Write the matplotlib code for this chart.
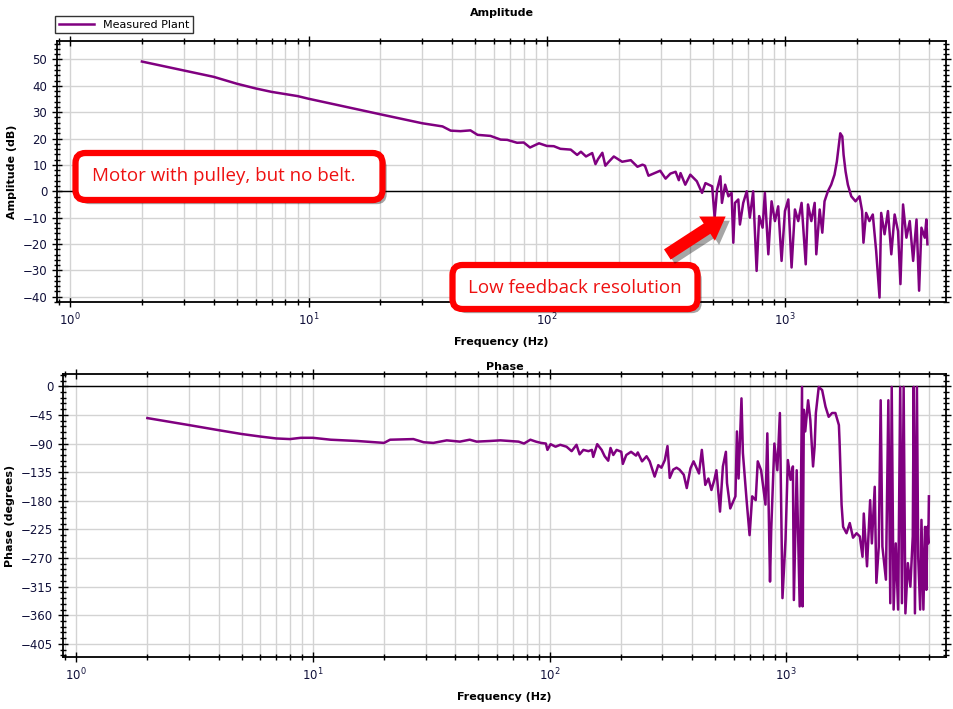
import numpy as np
import matplotlib
matplotlib.use("Agg")
import matplotlib.pyplot as plt
from matplotlib.ticker import MultipleLocator, LogLocator, NullFormatter
from matplotlib.patches import FancyBboxPatch, FancyArrowPatch
import matplotlib.patheffects as pe

# amplitude (Hz, dB)
amp_f = [2, 3, 4, 5, 6, 7, 9, 10, 20, 30, 36.5, 39.5, 43.4, 47.8, 51.2, 58, 64, 68.2, 75, 80,
         85, 92.7, 100, 107, 114, 126, 134, 139, 146, 155, 160, 164, 171, 176, 182, 191, 207, 225,
         240, 252, 258, 267, 280, 299, 315, 330, 347, 358, 364, 381, 400, 426, 448, 463, 494, 506,
         518, 535, 543, 560, 578, 596, 606, 616, 636, 646, 667, 690, 711, 734, 759, 778, 804, 822,
         850, 877, 906, 935, 966, 998, 1031, 1064, 1099, 1135, 1172, 1220, 1247, 1288, 1330, 1351,
         1396, 1432, 1463, 1511, 1560, 1611, 1648, 1680, 1703, 1737, 1759, 1793, 1833, 1894, 1974,
         2051, 2103, 2131, 2186, 2257, 2332, 2409, 2489, 2529, 2613, 2700, 2789, 2880, 2976, 3046,
         3124, 3227, 3333, 3444, 3558, 3648, 3731, 3854, 3913, 3953]
amp_db = [49.2, 45.8, 43.4, 40.8, 39.0, 37.7, 36.1, 35.1, 29.2, 25.8, 24.6, 23.0, 22.8, 23.1, 21.4,
          21.0, 19.6, 19.5, 18.4, 18.5, 16.6, 18.2, 17.2, 17.1, 16.1, 15.8, 13.8, 15.0, 13.2, 14.5,
          10.3, 12.2, 14.6, 9.7, 11.2, 13.2, 11.2, 11.8, 9.3, 10.1, 9.7, 5.9, 6.7, 7.8, 4.8, 6.7,
          7.4, 4.2, 6.9, 2.5, 6.3, 3.8, -0.6, 3.1, 1.9, -10, 0.6, 5.7, -4.4, 2.5, -1.9, -0.6, -19.5,
          -4.4, -3.1, -12.6, -4.4, 0, -10, 0, -30.2, -9.4, -13.8, -0.6, -23.9, -3.8, -11.3, -5.7,
          -26.4, -7.5, -3.1, -28.9, -6.9, -11.3, -4.4, -27.7, -5, -11.3, -4.4, -23.9, -6.9, -15.7,
          -3.8, 0, 2.5, 6.3, 11.3, 17.6, 22.0, 20.8, 13.8, 7.5, 2.5, -1.9, -3.8, -1.9, -7.5, -19.5,
          -8.2, -11.3, -8.8, -22.6, -40.3, -8.2, -16.3, -7.5, -23.9, -8.8, -15.1, -35.2, -5, -17.6,
          -11.3, -26.4, -10.7, -37.7, -13.8, -17.6, -10.7, -20.1]

# phase (Hz, degrees)
ph_f = [2, 3, 4, 5, 6, 7, 8, 8.9, 10, 11.9, 15.4, 20, 21.2, 26.6, 29.4, 32.3, 36.8, 41.8, 46, 49.2,
        56, 62, 68.2, 74, 78, 83, 87.6, 92, 96.5, 98, 101, 106, 111, 118, 124, 130, 134, 139, 146,
        151, 153, 159, 166, 171, 177, 181, 186, 192, 201, 204, 211, 221, 232, 236, 246, 257, 265,
        278, 288, 297, 307, 315, 322, 333, 344, 354, 369, 380, 394, 406, 428, 440, 455, 469, 483,
        497, 507, 525, 540, 556, 562, 580, 610, 619, 629, 647, 656, 680, 700, 718, 743, 758, 783,
        817, 832, 854, 864, 891, 917, 940, 964, 993, 1016, 1043, 1067, 1077, 1107, 1140, 1166,
        1172, 1187, 1203, 1237, 1264, 1298, 1318, 1334, 1372, 1418, 1465, 1511, 1562, 1613, 1669,
        1680, 1713, 1739, 1797, 1855, 1915, 1982, 2045, 2100, 2126, 2194, 2262, 2300, 2365, 2403,
        2460, 2506, 2548, 2637, 2700, 2751, 2790, 2842, 2902, 2969, 3031, 3082, 3133, 3187, 3264,
        3345, 3424, 3455, 3497, 3565, 3610, 3680, 3726, 3797, 3857, 3908, 3945, 3982, 4006]
ph_deg = [-50, -61, -69, -75, -79, -82, -83, -81, -81, -84, -86, -89, -84, -83, -88, -89, -85,
          -87, -84, -87, -86, -85, -86, -87, -90, -84, -87, -89, -90, -100, -91, -95, -92, -95,
          -102, -92, -107, -100, -102, -100, -111, -91, -100, -110, -117, -97, -108, -100, -103,
          -122, -108, -103, -109, -104, -118, -110, -118, -142, -124, -128, -116, -94, -144, -131,
          -128, -131, -139, -160, -129, -118, -137, -100, -155, -145, -163, -147, -132, -197, -126,
          -103, -152, -192, -173, -71, -145, -19, -105, -179, -234, -173, -179, -118, -132, -186,
          -74, -307, -226, -90, -132, -42, -333, -241, -116, -147, -126, -336, -132, -346, -1,
          -346, -37, -71, -22, -53, -126, -95, -42, -1, -6, -32, -48, -42, -42, -61, -87, -186,
          -221, -231, -215, -238, -231, -236, -268, -200, -283, -179, -247, -158, -309, -252, -22,
          -252, -304, -22, -341, -1, -351, -247, -351, -1, -341, -1, -357, -278, -315, -236, -1,
          -357, -1, -268, -351, -210, -351, -221, -320, -221, -247, -173]

purple = "#800080"
label_col = "#10103a"

fig = plt.figure(figsize=(9.54, 7.09), dpi=100)
ax1 = fig.add_axes([0.0597, 0.574, 0.9319, 0.3682])
ax2 = fig.add_axes([0.066, 0.0733, 0.9256, 0.3992])


def style(ax, ylim, ymaj, ymin):
    ax.set_xscale("log")
    ax.set_xlim(0.88, 4730)
    ax.set_ylim(*ylim)
    ax.yaxis.set_major_locator(MultipleLocator(ymaj))
    ax.yaxis.set_minor_locator(MultipleLocator(ymin))
    ax.xaxis.set_major_locator(LogLocator(base=10))
    ax.xaxis.set_minor_locator(LogLocator(base=10, subs=np.arange(2, 10)))
    ax.xaxis.set_minor_formatter(NullFormatter())
    ax.grid(True, which="major", color="#d3d3d3", lw=1)
    ax.grid(True, which="minor", axis="x", color="#d3d3d3", lw=1)
    ax.set_axisbelow(True)
    ax.axhline(0, color="black", lw=1, zorder=1.5)
    ax.tick_params(which="both", direction="inout", top=True, right=True,
                   labelsize=8.5, labelcolor=label_col, width=1)
    ax.tick_params(which="major", length=7)
    ax.tick_params(which="minor", length=4)
    for s in ax.spines.values():
        s.set_linewidth(1.3)


style(ax1, (-42, 57), 10, 2)
style(ax2, (-425.6, 19.3), 45, 9)

ax1.plot(amp_f, amp_db, color=purple, lw=1.8, label="Measured Plant", zorder=2)
ax2.plot(ph_f, ph_deg, color=purple, lw=1.8, zorder=2)

ax1.set_title("Amplitude", fontsize=8, fontweight="bold", pad=18)
ax2.set_title("Phase", fontsize=8, fontweight="bold", pad=3)
ax1.set_xlabel("Frequency (Hz)", fontsize=8, fontweight="bold", labelpad=6)
ax2.set_xlabel("Frequency (Hz)", fontsize=8, fontweight="bold", labelpad=6)
ax1.set_ylabel("Amplitude (dB)", fontsize=8, fontweight="bold", labelpad=4)
ax2.set_ylabel("Phase (degrees)", fontsize=8, fontweight="bold", labelpad=4)

leg = ax1.legend(loc="lower left", bbox_to_anchor=(-0.002, 1.03), fontsize=8,
                 frameon=True, fancybox=False, edgecolor="black", borderpad=0.3,
                 handlelength=3.2, handletextpad=0.8, borderaxespad=0)
leg.get_frame().set_linewidth(1)

# red callouts (positions in inches from the lower left corner)
shadow = [pe.withSimplePatchShadow(offset=(3, -3), shadow_rgbFace="black", alpha=0.35)]
callouts = [("Motor with pulley, but no belt.", (0.755, 5.09, 3.07, 0.47), (2.24, 5.33)),
            ("Low feedback resolution", (4.525, 4.0, 2.45, 0.44), (5.75, 4.21))]
for txt, (x0, y0, w, h), (tx, ty) in callouts:
    box = FancyBboxPatch((x0, y0), w, h, boxstyle="round,pad=0,rounding_size=0.1",
                         transform=fig.dpi_scale_trans, fc="white", ec="red", lw=4.5,
                         path_effects=shadow)
    fig.patches.append(box)
    fig.text(tx, ty, txt, transform=fig.dpi_scale_trans, ha="center", va="center",
             color="#ee1111", fontsize=13.5, family="Open Sans")

fig.patches.append(FancyArrowPatch(
    (6.65, 4.53), (7.28, 4.94), transform=fig.dpi_scale_trans,
    arrowstyle="simple,head_width=1.3,head_length=1.0,tail_width=0.55",
    mutation_scale=16, color="red", lw=0, path_effects=shadow))

fig.savefig("out.png", dpi=100)
